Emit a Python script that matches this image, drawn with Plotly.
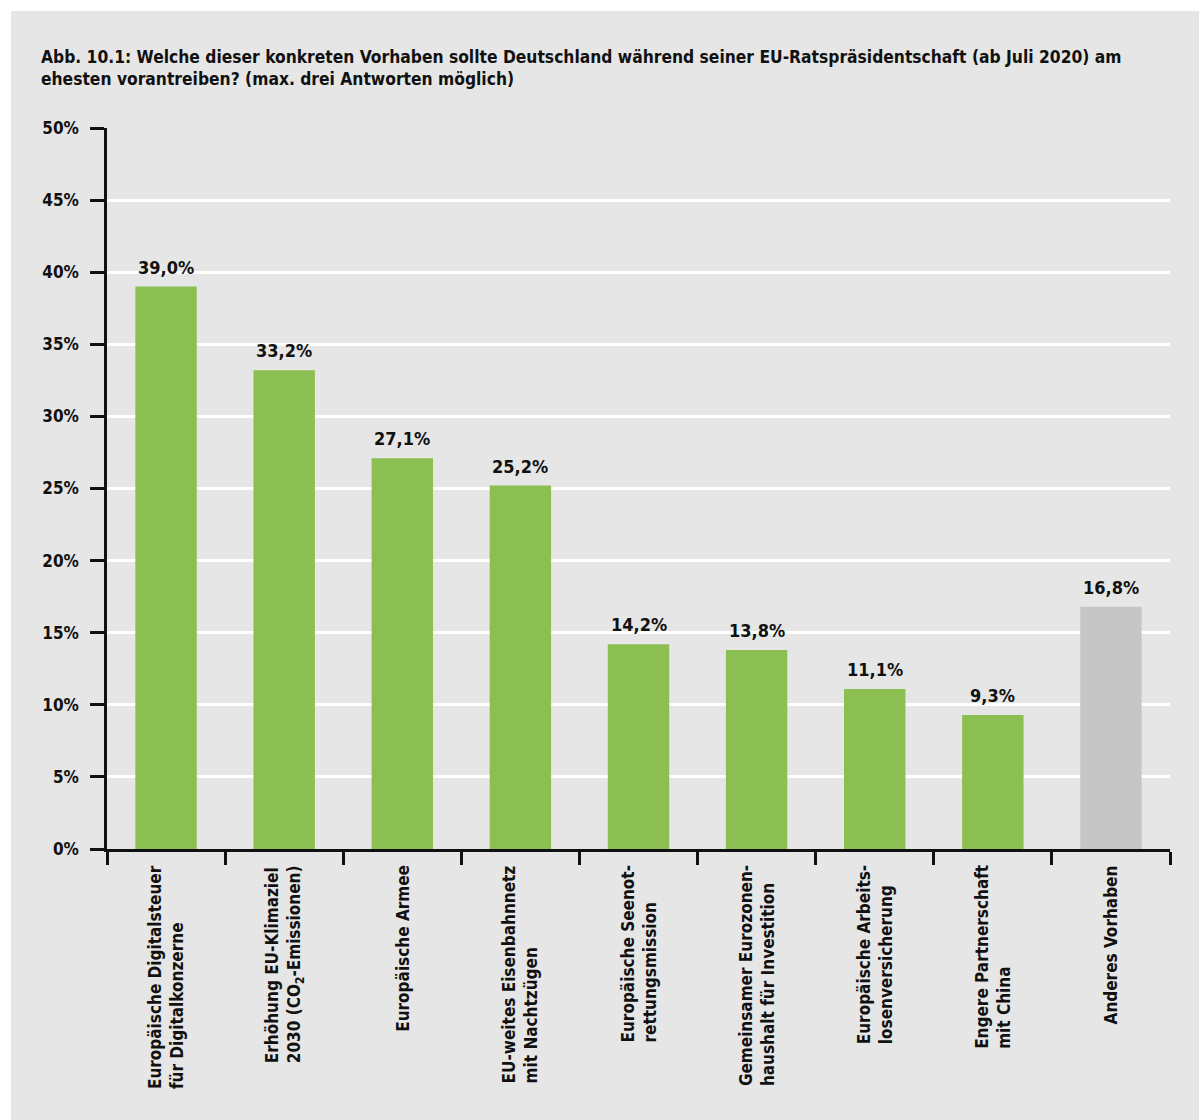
import plotly.graph_objects as go

categories = [
    "Europäische Digitalsteuer<br>für Digitalkonzerne",
    "Erhöhung EU-Klimaziel<br>2030 (CO<sub>2</sub>-Emissionen)",
    "Europäische Armee",
    "EU-weites Eisenbahnnetz<br>mit Nachtzügen",
    "Europäische Seenot-<br>rettungsmission",
    "Gemeinsamer Eurozonen-<br>haushalt für Investition",
    "Europäische Arbeits-<br>losenversicherung",
    "Engere Partnerschaft<br>mit China",
    "Anderes Vorhaben",
]
values = [39.0, 33.2, 27.1, 25.2, 14.2, 13.8, 11.1, 9.3, 16.8]
bar_colors = ["#8cbf52"] * 8 + ["#c6c6c6"]
y_ticks = [0, 5, 10, 15, 20, 25, 30, 35, 40, 45, 50]
y_tick_labels = [f"{v}%" for v in y_ticks]
title_text = ("Abb. 10.1: Welche dieser konkreten Vorhaben sollte Deutschland während seiner "
              "EU-Ratspräsidentschaft (ab Juli 2020) am<br>ehesten vorantreiben? (max. drei Antworten möglich)")

FONT = "DejaVu Sans Condensed, Liberation Sans Narrow, Roboto Condensed, Arial Narrow, sans-serif"
W, H = 1199, 1120
L, R, T, B = 107, 29, 128, 271
pw, ph = W - L - R, H - T - B

def px_x(p):
    return (p - L) / pw

def px_y(p):
    return (H - B - p) / ph

keys = [f"c{i}" for i in range(len(categories))]
labels = [f"{v:.1f}%".replace(".", ",") for v in values]

fig = go.Figure()
fig.add_trace(go.Bar(
    x=keys, y=values, marker=dict(color=bar_colors, line=dict(width=0)),
    width=0.52, hoverinfo="skip",
))

annotations = []
for i, c in enumerate(categories):
    annotations.append(dict(
        x=keys[i], xref="x", y=px_y(863), yref="paper", text=c, showarrow=False,
        textangle=-90, align="left", xanchor="center", yanchor="top",
        font=dict(family=FONT, size=17, color="#111111", weight="bold"),
    ))
for i, v in enumerate(values):
    annotations.append(dict(
        x=keys[i], xref="x", y=v, yref="y", text=labels[i], showarrow=False,
        xanchor="center", yanchor="bottom", yshift=7,
        font=dict(family=FONT, size=18, color="#111111", weight="bold"),
    ))

fig.update_layout(
    width=W, height=H,
    margin=dict(l=L, r=R, t=T, b=B, pad=0),
    paper_bgcolor="#e6e6e6", plot_bgcolor="#e6e6e6",
    showlegend=False,
    title=dict(text=title_text, xref="container", yref="container",
               x=41 / W, xanchor="left", y=1 - 63 / H, yanchor="top",
               font=dict(family=FONT, size=17.3, color="#111111", weight="bold")),
    shapes=[
        dict(type="rect", xref="paper", yref="paper", layer="below",
             x0=px_x(-5), x1=px_x(11), y0=px_y(1130), y1=px_y(-5),
             fillcolor="white", line=dict(width=0)),
        dict(type="rect", xref="paper", yref="paper", layer="below",
             x0=px_x(-5), x1=px_x(1210), y0=px_y(11), y1=px_y(-5),
             fillcolor="white", line=dict(width=0)),
    ],
    annotations=annotations,
)
fig.update_xaxes(
    type="category", categoryorder="array", categoryarray=keys,
    range=[-0.5, len(categories) - 0.5],
    showticklabels=False, tickson="boundaries", ticks="outside", ticklen=13,
    tickwidth=2.5, tickcolor="#111111", showline=True, linecolor="#111111",
    linewidth=2.5, showgrid=False, zeroline=False, fixedrange=True,
)
fig.update_yaxes(
    range=[0, 50], tickmode="array", tickvals=y_ticks, ticktext=y_tick_labels,
    ticks="outside", ticklen=14, tickwidth=2.5, tickcolor="#111111",
    showline=True, linecolor="#111111", linewidth=2.5,
    showgrid=True, gridcolor="white", gridwidth=2.5, zeroline=False,
    tickfont=dict(family=FONT, size=17, color="#111111", weight="bold"),
    ticklabelstandoff=8, fixedrange=True,
)

fig.write_html("out.html", config={"displayModeBar": False},
               post_script="document.body.style.margin='0';")
